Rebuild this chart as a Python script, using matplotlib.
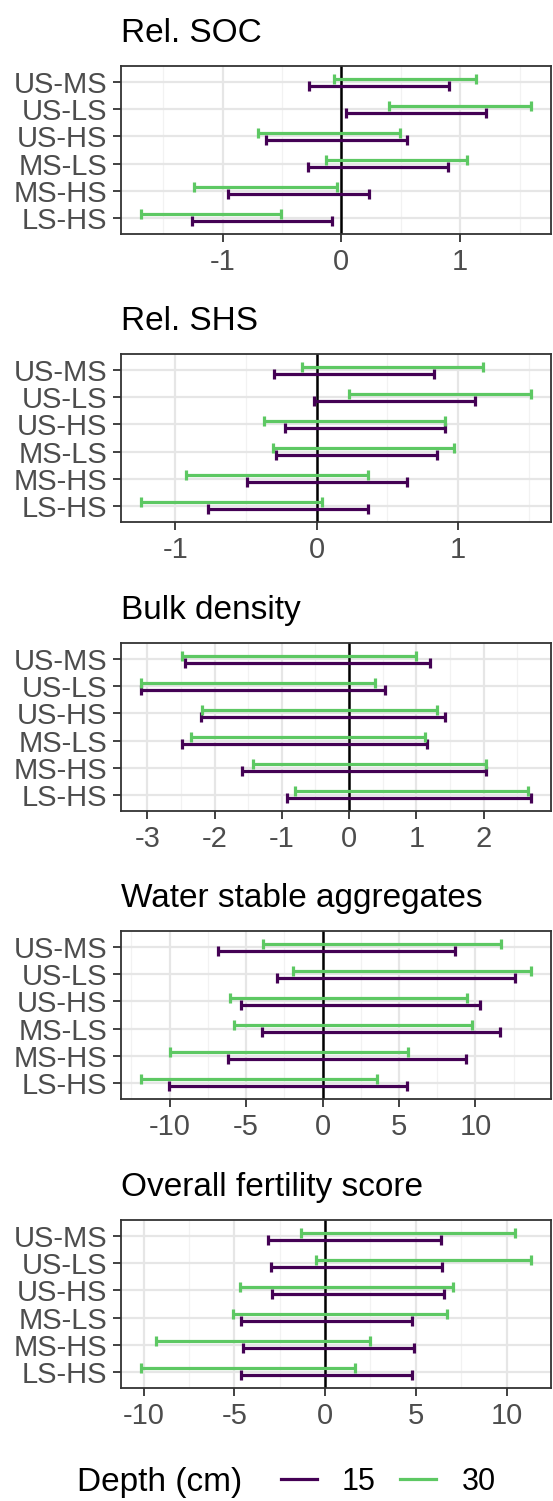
import matplotlib
matplotlib.use("Agg")
import matplotlib.pyplot as plt
from matplotlib.lines import Line2D
import numpy as np

plt.rcParams['font.family'] = ['Liberation Sans', 'DejaVu Sans']
plt.rcParams['axes.unicode_minus'] = False

comparisons = ["US-MS", "US-LS", "US-HS", "MS-LS", "MS-HS", "LS-HS"]
titles = ["Rel. SOC", "Rel. SHS", "Bulk density", "Water stable aggregates", "Overall fertility score"]
depths = ["15", "30"]
colors = {"15": "#440154", "30": "#5DC863"}

# lower / upper bounds per panel and depth
soc_15_lo = [-0.27, 0.04, -0.63, -0.28, -0.95, -1.26]
soc_15_hi = [0.91, 1.22, 0.55, 0.90, 0.23, -0.08]
soc_30_lo = [-0.06, 0.40, -0.70, -0.13, -1.24, -1.69]
soc_30_hi = [1.13, 1.60, 0.49, 1.06, -0.04, -0.51]

shs_15_lo = [-0.30, -0.02, -0.22, -0.29, -0.49, -0.765]
shs_15_hi = [0.83, 1.12, 0.91, 0.85, 0.64, 0.365]
shs_30_lo = [-0.10, 0.23, -0.37, -0.31, -0.92, -1.245]
shs_30_hi = [1.18, 1.52, 0.91, 0.97, 0.365, 0.037]

bd_15_lo = [-2.44, -3.10, -2.20, -2.48, -1.585, -0.93]
bd_15_hi = [1.20, 0.54, 1.43, 1.16, 2.04, 2.71]
bd_30_lo = [-2.49, -3.10, -2.18, -2.35, -1.43, -0.81]
bd_30_hi = [1.00, 0.38, 1.30, 1.13, 2.04, 2.66]

wsa_15_lo = [-6.85, -3.0, -5.3, -3.93, -6.2, -10.07]
wsa_15_hi = [8.67, 12.56, 10.27, 11.6, 9.36, 5.49]
wsa_30_lo = [-3.9, -1.95, -6.08, -5.79, -9.95, -11.9]
wsa_30_hi = [11.65, 13.66, 9.47, 9.75, 5.58, 3.55]

ofs_15_lo = [-3.12, -3.0, -2.93, -4.62, -4.55, -4.62]
ofs_15_hi = [6.36, 6.44, 6.55, 4.78, 4.89, 4.78]
ofs_30_lo = [-1.33, -0.48, -4.7, -5.05, -9.33, -10.17]
ofs_30_hi = [10.48, 11.37, 7.05, 6.74, 2.5, 1.62]

panels = [
    ({"15": (soc_15_lo, soc_15_hi), "30": (soc_30_lo, soc_30_hi)}, [-1, 0, 1], 0.5),
    ({"15": (shs_15_lo, shs_15_hi), "30": (shs_30_lo, shs_30_hi)}, [-1, 0, 1], 0.5),
    ({"15": (bd_15_lo, bd_15_hi), "30": (bd_30_lo, bd_30_hi)}, [-3, -2, -1, 0, 1, 2], 0.5),
    ({"15": (wsa_15_lo, wsa_15_hi), "30": (wsa_30_lo, wsa_30_hi)}, [-10, -5, 0, 5, 10], 2.5),
    ({"15": (ofs_15_lo, ofs_15_hi), "30": (ofs_30_lo, ofs_30_hi)}, [-10, -5, 0, 5, 10], 2.5),
]

W, H = 553, 1501
fig = plt.figure(figsize=(W / 100, H / 100), dpi=100)

left_px, right_px = 121, 551
tops = [66, 354, 643, 931, 1220]
ph = 168
dodge = {"15": -0.125, "30": 0.125}
text_grey = "#4D4D4D"

for (data, ticks, minor_step), title, top in zip(panels, titles, tops):
    ax = fig.add_axes([left_px / W, 1 - (top + ph) / H, (right_px - left_px) / W, ph / H])
    allv = np.concatenate([np.array(v) for d in data.values() for v in d])
    lo, hi = allv.min(), allv.max()
    r = hi - lo
    xmin, xmax = lo - 0.05 * r, hi + 0.05 * r
    ax.set_xlim(xmin, xmax)
    n = len(comparisons)
    ypos = np.arange(n)[::-1]
    ax.set_ylim(-0.6, n - 1 + 0.6)
    # grid
    minors = np.arange(np.floor(xmin / minor_step) * minor_step, xmax + 1e-9, minor_step)
    for m in minors:
        if not np.any(np.isclose(m, ticks)):
            ax.axvline(m, color="#F2F2F2", lw=0.9, zorder=0)
    for t in ticks:
        ax.axvline(t, color="#E6E6E6", lw=1.6, zorder=0)
    for yy in ypos:
        ax.axhline(yy, color="#E6E6E6", lw=1.6, zorder=0)
    ax.axvline(0, color="black", lw=1.8, zorder=1)
    for d in depths:
        l, h_ = data[d]
        yy = ypos + dodge[d]
        ax.hlines(yy, l, h_, color=colors[d], lw=2.3, zorder=3)
        ax.plot(l, yy, ls="none", marker="|", ms=6.5, mew=2.3, color=colors[d], zorder=3)
        ax.plot(h_, yy, ls="none", marker="|", ms=6.5, mew=2.3, color=colors[d], zorder=3)
    ax.set_yticks(ypos)
    ax.set_yticklabels(comparisons)
    ax.set_xticks(ticks)
    ax.set_xticklabels([str(t) for t in ticks])
    ax.tick_params(axis="both", labelsize=21, colors="#333333", labelcolor=text_grey,
                   length=5.5, width=1.3, pad=4.5)
    for s in ax.spines.values():
        s.set_color("#333333")
        s.set_linewidth(1.3)
    ax.set_title(title, loc="left", fontsize=24, pad=17, color="black")

fig.text(77 / W, 1 - 1482 / H, "Depth (cm)", fontsize=24, va="center", ha="left")
handles = [Line2D([0], [0], color=colors[d], lw=2.3) for d in depths]
fig.legend(handles, depths, ncol=2, loc="center left",
           bbox_to_anchor=(281 / W, 1 - 1482 / H), frameon=False, fontsize=22,
           handlelength=1.18, handletextpad=0.82, columnspacing=0.8,
           borderpad=0, borderaxespad=0)

fig.savefig("out.png", dpi=100)
